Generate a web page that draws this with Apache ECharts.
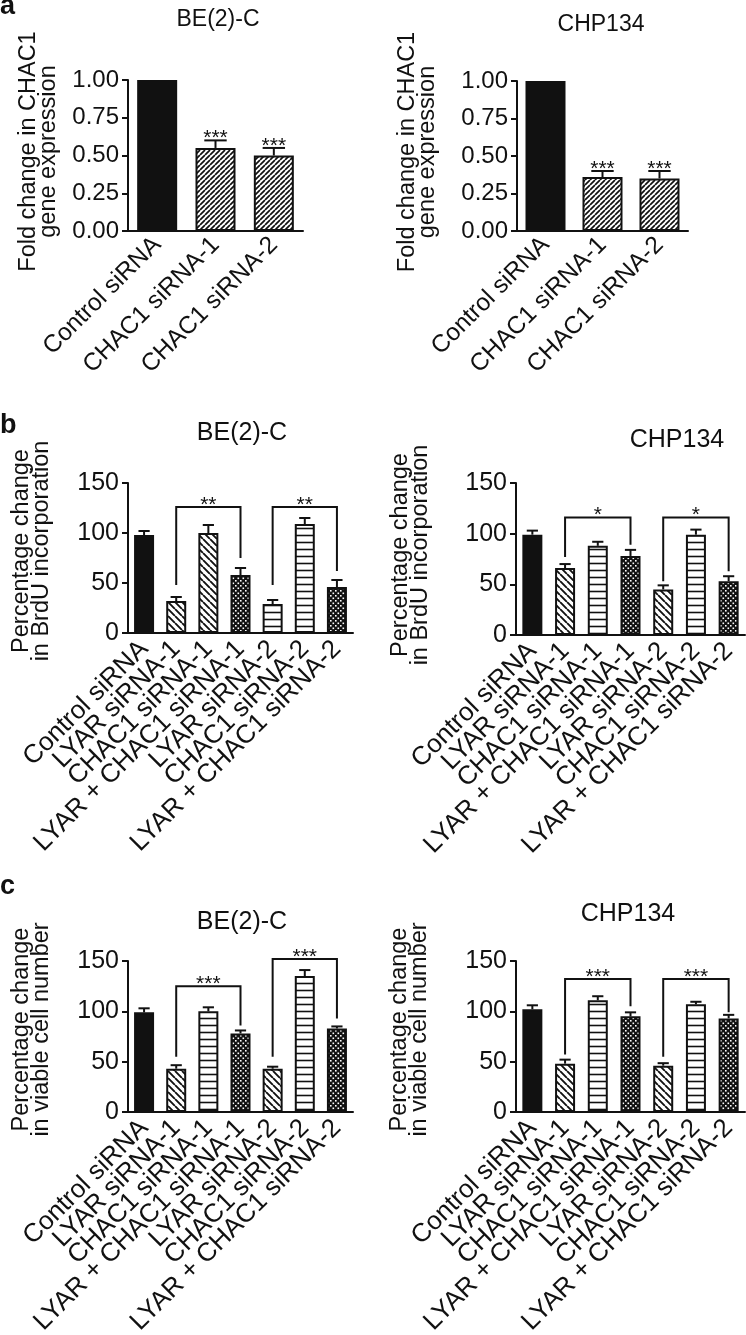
<!DOCTYPE html>
<html><head><meta charset="utf-8">
<script src="https://cdn.jsdelivr.net/npm/echarts@6/dist/echarts.min.js"></script>
<style>html,body{margin:0;padding:0;background:#fff}#c{width:746px;height:1335px}</style>
</head><body><div id="c"></div>
<script>
// ---------- data ----------
const catsA = ['Control siRNA', 'CHAC1 siRNA-1', 'CHAC1 siRNA-2'];
const catsBC = ['Control siRNA', 'LYAR siRNA-1', 'CHAC1 siRNA-1', 'LYAR + CHAC1 siRNA-1', 'LYAR siRNA-2', 'CHAC1 siRNA-2', 'LYAR + CHAC1 siRNA-2'];
const ticksA = [0, 0.25, 0.5, 0.75, 1.0];
const ticksBC = [0, 50, 100, 150];

const aBE2C = [1.00, 0.55, 0.50];
const aBE2CErr = [0, 0.05, 0.05];
const aBE2CSig = ['', '***', '***'];
const aCHP134 = [1.00, 0.36, 0.35];
const aCHP134Err = [0, 0.04, 0.05];
const aCHP134Sig = ['', '***', '***'];

const bBE2C = [98, 32, 100, 58, 29, 109, 46];
const bBE2CErr = [4, 4, 8, 7, 4, 6, 7];
const bCHP134 = [99, 66, 88, 78, 45, 99, 53];
const bCHP134Err = [4, 4, 4, 6, 4, 5, 5];
const cBE2C = [99, 43, 100, 78, 43, 135, 83];
const cBE2CErr = [4, 3.5, 4, 3, 2, 6, 2];
const cCHP134 = [102, 48, 111, 95, 46, 107, 93];
const cCHP134Err = [4, 4, 4, 4, 2.5, 2.5, 3.5];

// brackets: [fromIdx, toIdx, bracketTop, leftLegEnd, rightLegEnd, label]
const bBE2CBr = [[1, 3, 126, 48, 75, '**'], [4, 6, 126, 48, 62, '**']];
const bCHP134Br = [[1, 3, 116, 77, 89, '*'], [4, 6, 116, 53, 63, '*']];
const cBE2CBr = [[1, 3, 125, 55, 86, '***'], [4, 6, 152, 55, 93, '***']];
const cCHP134Br = [[1, 3, 132, 57, 105, '***'], [4, 6, 132, 55, 99, '***']];

const titles = ['BE(2)-C', 'CHP134'];
const yNames = ['Fold change in CHAC1\ngene expression', 'Percentage change\nin BrdU incorporation', 'Percentage change\nin viable cell number'];
const panelLetters = ['a', 'b', 'c'];

// ---------- styles ----------
const FONT = '"Liberation Sans", Arial, sans-serif';
const INK = '#111';
const fillA = ['solid', 'fwd', 'fwd'];
const fillB1 = ['solid', 'back', 'back', 'dots', 'horiz', 'horiz', 'dots'];
const fillStd = ['solid', 'back', 'horiz', 'dots', 'back', 'horiz', 'dots'];

function makePattern(kind) {
  if (kind === 'solid') return INK;
  const s = kind === 'fwd' ? 5 : (kind === 'dots' ? 5 : 7);
  const c = document.createElement('canvas');
  c.width = s; c.height = s;
  const g = c.getContext('2d');
  g.fillStyle = kind === 'dots' ? INK : '#fff';
  g.fillRect(0, 0, s, s);
  g.strokeStyle = INK;
  if (kind === 'fwd' || kind === 'back') {
    g.lineWidth = kind === 'fwd' ? 1.7 : 1.9;
    g.beginPath();
    for (let k = -s; k <= s; k += s) {
      if (kind === 'fwd') { g.moveTo(k, s); g.lineTo(k + s, 0); }
      else { g.moveTo(k, 0); g.lineTo(k + s, s); }
    }
    g.stroke();
  } else if (kind === 'horiz') {
    g.lineWidth = 1.6;
    g.beginPath(); g.moveTo(0, s / 2); g.lineTo(s, s / 2); g.stroke();
  } else if (kind === 'dots') {
    g.fillStyle = '#fff';
    g.fillRect(0, 0, 1.6, 1.6);
    g.fillRect(2.5, 2.5, 1.6, 1.6);
  }
  return { image: c, repeat: 'repeat' };
}
const PAT = {};
['solid', 'fwd', 'back', 'horiz', 'dots'].forEach(k => PAT[k] = makePattern(k));

// ---------- layout ----------
const panels = [
  { grid: { left: 128, top: 80, width: 175, height: 151 }, cats: catsA, vals: aBE2C, err: aBE2CErr, sig: aBE2CSig, fill: fillA, br: [], yi: 0, ticks: ticksA, barW: 40,
    title: titles[0], tx: 218, ty: 20, tf: 23, xf: 24.5, xm: 10, yf: 24, gap: 69, pad: 8 },
  { grid: { left: 517, top: 81, width: 171, height: 150 }, cats: catsA, vals: aCHP134, err: aCHP134Err, sig: aCHP134Sig, fill: fillA, br: [], yi: 0, ticks: ticksA, barW: 40,
    title: titles[1], tx: 601, ty: 25, tf: 23, xf: 24.5, xm: 10, yf: 24, gap: 79, pad: 8 },
  { grid: { left: 128, top: 483, width: 225, height: 150 }, cats: catsBC, vals: bBE2C, err: bBE2CErr, sig: null, fill: fillB1, br: bBE2CBr, yi: 1, ticks: ticksBC, barW: 20,
    title: titles[0], tx: 242, ty: 433, tf: 25, xf: 26, xm: 12, yf: 25, gap: 76, pad: 14 },
  { grid: { left: 516, top: 483, width: 229, height: 152 }, cats: catsBC, vals: bCHP134, err: bCHP134Err, sig: null, fill: fillStd, br: bCHP134Br, yi: 1, ticks: ticksBC, barW: 20,
    title: titles[1], tx: 677, ty: 440, tf: 25, xf: 26, xm: 12, yf: 25, gap: 85, pad: 8 },
  { grid: { left: 128, top: 961, width: 225, height: 151 }, cats: catsBC, vals: cBE2C, err: cBE2CErr, sig: null, fill: fillStd, br: cBE2CBr, yi: 2, ticks: ticksBC, barW: 20,
    title: titles[0], tx: 242, ty: 922, tf: 25, xf: 26, xm: 12, yf: 25, gap: 76, pad: 14 },
  { grid: { left: 516, top: 961, width: 229, height: 151 }, cats: catsBC, vals: cCHP134, err: cCHP134Err, sig: null, fill: fillStd, br: cCHP134Br, yi: 2, ticks: ticksBC, barW: 20,
    title: titles[1], tx: 628, ty: 914, tf: 25, xf: 26, xm: 12, yf: 25, gap: 86, pad: 14 }
];
const letterPos = [[0, 7], [0, 426], [0, 887]];

const grids = [], xAxes = [], yAxes = [], series = [], graphics = [];
panels.forEach((p, gi) => {
  grids.push(Object.assign({ outerBoundsMode: 'none', containLabel: false }, p.grid));
  xAxes.push({
    type: 'category', gridIndex: gi, data: p.cats,
    axisLine: { lineStyle: { color: INK, width: 2 } },
    axisTick: { alignWithLabel: true, length: 6, lineStyle: { color: INK, width: 2 } },
    axisLabel: { rotate: 45, interval: 0, margin: p.xm, fontFamily: FONT, fontSize: p.xf, color: INK }
  });
  const tk = p.ticks;
  const step = tk[1] - tk[0];
  yAxes.push({
    type: 'value', gridIndex: gi, min: tk[0], max: tk[tk.length - 1], interval: step,
    name: yNames[p.yi], nameLocation: 'middle', nameRotate: 90, nameGap: p.gap,
    nameTextStyle: { fontFamily: FONT, fontSize: 23.5, lineHeight: 20, color: INK, padding: [0, 0, 0, p.pad] },
    axisLine: { show: true, lineStyle: { color: INK, width: 2 } },
    axisTick: { show: true, length: 6, lineStyle: { color: INK, width: 2 } },
    splitLine: { show: false },
    axisLabel: { margin: 9, fontFamily: FONT, fontSize: p.yf, color: INK,
      formatter: v => (step < 1 ? v.toFixed(2) : String(v)) }
  });
  series.push({
    type: 'bar', xAxisIndex: gi, yAxisIndex: gi, barWidth: p.barW,
    data: p.vals.map((v, i) => ({ value: v, itemStyle: { color: PAT[p.fill[i]] } })),
    itemStyle: { borderColor: INK, borderWidth: 2 }, z: 2
  });
  const capHalf = p.barW * 0.28;
  series.push({
    type: 'custom', xAxisIndex: gi, yAxisIndex: gi, z: 3, clip: false,
    data: p.vals.map((v, i) => [i, v, p.err[i]]),
    encode: { x: 0, y: 1 },
    renderItem: (params, api) => {
      const i = api.value(0), v = api.value(1), e = api.value(2);
      const kids = [];
      const p1 = api.coord([i, v + e]);
      if (e > 0) {
        const p0 = api.coord([i, v]);
        kids.push({ type: 'line', shape: { x1: p0[0], y1: p0[1], x2: p1[0], y2: p1[1] }, style: { stroke: INK, lineWidth: 2 } });
        kids.push({ type: 'line', shape: { x1: p1[0] - capHalf, y1: p1[1], x2: p1[0] + capHalf, y2: p1[1] }, style: { stroke: INK, lineWidth: 2 } });
      }
      const s = p.sig && p.sig[params.dataIndex];
      if (s) kids.push({ type: 'text', x: p1[0], y: p1[1] - 2, style: { text: s, font: '21px ' + FONT, fill: INK, align: 'center', verticalAlign: 'middle' } });
      return { type: 'group', children: kids };
    }
  });
  if (p.br.length) {
    series.push({
      type: 'custom', xAxisIndex: gi, yAxisIndex: gi, z: 4, clip: false,
      data: p.br.map(b => [b[0], b[2], b[1]]),
      encode: { x: 0, y: 1 },
      renderItem: (params, api) => {
        const b = p.br[params.dataIndex];
        const a = api.coord([b[0], b[3]]), t1 = api.coord([b[0], b[2]]);
        const t2 = api.coord([b[1], b[2]]), c = api.coord([b[1], b[4]]);
        return { type: 'group', children: [
          { type: 'polyline', shape: { points: [a, t1, t2, c] }, style: { stroke: INK, lineWidth: 2, fill: null } },
          { type: 'text', x: (t1[0] + t2[0]) / 2, y: t1[1] - 2, style: { text: b[5], font: '21px ' + FONT, fill: INK, align: 'center', verticalAlign: 'middle' } }
        ] };
      }
    });
  }
  graphics.push({ type: 'text', x: p.tx, y: p.ty, style: { text: p.title, font: p.tf + 'px ' + FONT, fill: INK, align: 'center', verticalAlign: 'middle' } });
});
panelLetters.forEach((l, i) => {
  graphics.push({ type: 'text', x: letterPos[i][0], y: letterPos[i][1], style: { text: l, font: 'bold 27px ' + FONT, fill: INK, align: 'left', verticalAlign: 'middle' } });
});

const chart = echarts.init(document.getElementById('c'), null, { renderer: 'canvas', width: 746, height: 1335 });
chart.setOption({
  animation: false, backgroundColor: '#fff',
  grid: grids, xAxis: xAxes, yAxis: yAxes, series: series, graphic: graphics
});
</script></body></html>
